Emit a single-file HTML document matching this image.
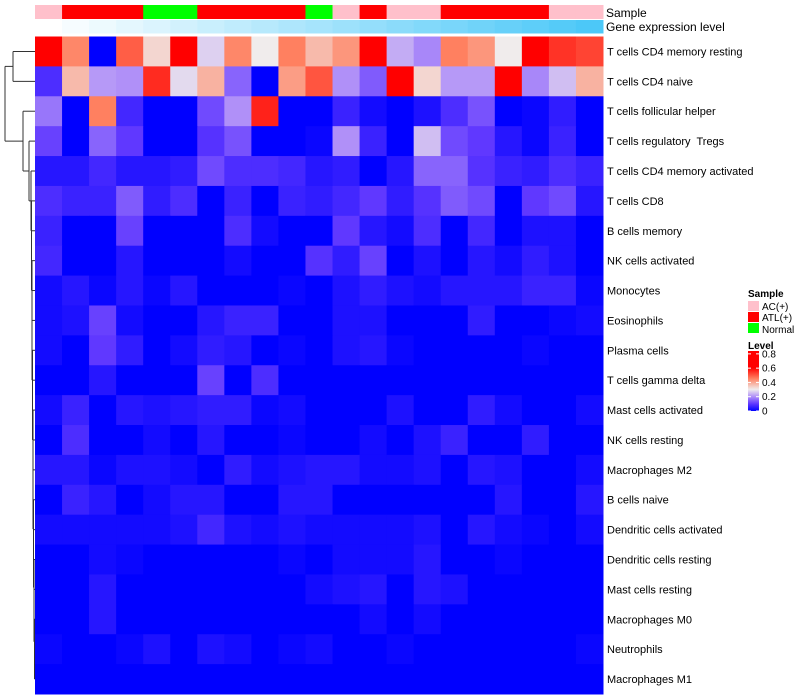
<!DOCTYPE html>
<html><head><meta charset="utf-8"><style>
body{margin:0;background:#fff;}
svg{display:block;font-family:"Liberation Sans",sans-serif;}
#rowlabels text{white-space:pre;}
</style></head><body>
<svg id="chart" width="800" height="700" viewBox="0 0 800 700" xmlns="http://www.w3.org/2000/svg">
<g id="dendro" stroke="#333" stroke-width="1" fill="none"></g>
<g id="annot"></g>
<g id="cells"></g>
<g id="rowlabels" font-size="11" fill="#000"></g>
<text x="606" y="17" font-size="12">Sample</text>
<text x="606" y="31" font-size="12">Gene expression level</text>
<g id="legend" font-size="10">
<text x="748" y="297" font-weight="bold">Sample</text>
<rect x="748" y="301" width="11" height="10" fill="#ffc0cb"/>
<text x="762" y="310">AC(+)</text>
<rect x="748" y="312" width="11" height="10" fill="#ff0000"/>
<text x="762" y="321">ATL(+)</text>
<rect x="748" y="323" width="11" height="10" fill="#00ff00"/>
<text x="762" y="333">Normal</text>
<text x="748" y="349" font-weight="bold">Level</text>
<defs><linearGradient id="lg" x1="0" y1="1" x2="0" y2="0">
<stop offset="0" stop-color="#0000ff"/><stop offset="0.12" stop-color="#6038ff"/><stop offset="0.24" stop-color="#b090f8"/><stop offset="0.36" stop-color="#f0ecec"/><stop offset="0.54" stop-color="#ff8060"/><stop offset="0.72" stop-color="#ff0000"/><stop offset="1" stop-color="#ff0000"/>
</linearGradient></defs>
<rect x="748" y="351" width="11" height="60" fill="url(#lg)"/>
<g id="lticks"></g>
</g>
</svg>
<script>
const rowNames=["T cells CD4 memory resting","T cells CD4 naive","T cells follicular helper","T cells regulatory  Tregs","T cells CD4 memory activated","T cells CD8","B cells memory","NK cells activated","Monocytes","Eosinophils","Plasma cells","T cells gamma delta","Mast cells activated","NK cells resting","Macrophages M2","B cells naive","Dendritic cells activated","Dendritic cells resting","Mast cells resting","Macrophages M0","Neutrophils","Macrophages M1"];
const sampleGroups=["AC(+)","ATL(+)","ATL(+)","ATL(+)","Normal","Normal","ATL(+)","ATL(+)","ATL(+)","ATL(+)","Normal","AC(+)","ATL(+)","AC(+)","AC(+)","ATL(+)","ATL(+)","ATL(+)","ATL(+)","AC(+)","AC(+)"];
const geneLevel=[0,1,2,3,4,5,6,7,8,9,10,11,12,13,14,15,16,17,18,19,20];
const legendTicks=[0,0.2,0.4,0.6,0.8];
const r0=[.6,.44,0,.49,.33,.6,.27,.44,.3,.45,.37,.42,.6,.23,.19,.45,.42,.3,.6,.54,.52];
const r1=[.08,.37,.21,.2,.55,.28,.38,.15,0,.41,.5,.2,.14,.6,.33,.21,.21,.6,.19,.25,.38];
const r2=[.17,0,.45,.07,0,0,.12,.2,.56,0,0,.06,.02,0,.03,.08,.13,0,.01,.05,0];
const r3=[.11,0,.15,.1,0,0,.09,.13,0,0,.01,.2,.06,0,.25,.12,.1,.04,.01,.06,0];
const r4=[.04,.04,.07,.04,.04,.05,.12,.08,.08,.07,.04,.05,0,.04,.15,.15,.09,.06,.05,.08,.06];
const r5=[.08,.06,.06,.14,.05,.08,0,.06,0,.06,.05,.07,.1,.05,.09,.14,.12,0,.1,.12,.04];
const r6=[.06,0,0,.11,0,0,0,.08,.02,0,0,.1,.04,.02,.08,0,.07,0,.03,.03,0];
const r7=[.07,0,0,.04,0,0,0,.02,0,0,.09,.05,.11,0,.03,0,.04,.02,.05,.03,0];
const r8=[.02,.04,.01,.04,.01,.04,0,0,0,.01,0,.03,.05,.03,.02,.04,.04,.04,.06,.06,.01];
const r9=[.02,.03,.11,.02,0,0,.04,.06,.06,0,0,.03,.03,0,0,0,.05,0,0,.01,.02];
const r10=[.02,0,.1,.05,0,.02,.05,.04,0,.01,0,.03,.04,.01,0,0,0,0,.01,0,0];
const r11=[0,0,.04,0,0,0,.11,0,.08,0,0,0,0,0,0,0,0,0,0,0,0];
const r12=[.02,.06,0,.04,.03,.04,.05,.05,.01,.02,0,0,0,.03,0,0,.05,.02,0,0,.02];
const r13=[0,.08,0,0,.02,0,.04,0,0,.01,0,0,.02,0,.03,.06,0,0,.05,0,0];
const r14=[.04,.04,.01,.03,.03,.02,0,.05,.02,.03,.04,.04,.02,.02,.03,0,.04,.03,0,0,.02];
const r15=[0,.06,.04,0,.02,.04,.04,0,0,.04,.04,0,0,0,0,0,0,.04,0,0,.04];
const r16=[.02,.02,.02,.02,.02,.03,.07,.03,.02,.03,.02,.02,.02,.02,.03,0,.04,.02,.01,0,.02];
const r17=[0,0,.02,.01,0,0,0,0,0,.01,0,.02,.02,.02,.04,0,0,.01,0,0,0];
const r18=[0,0,.04,0,0,0,0,0,0,0,.02,.03,.04,0,.04,.03,0,0,0,0,0];
const r19=[0,0,.04,0,0,0,0,0,0,0,0,0,.02,0,.02,0,0,0,0,0,0];
const r20=[.01,0,0,.01,.03,0,.03,.02,0,.01,.02,0,0,.01,0,0,0,0,0,0,.01];
const r21=[0,0,0,0,0,0,0,0,0,0,0,0,0,0,0,0,0,0,0,0,0];
const values=[r0,r1,r2,r3,r4,r5,r6,r7,r8,r9,r10,r11,r12,r13,r14,r15,r16,r17,r18,r19,r20,r21];

const NS="http://www.w3.org/2000/svg";
const X0=35,X1=603,Y0=36.5,Y1=694;
const nC=sampleGroups.length,nR=rowNames.length;
const cw=(X1-X0)/nC,rh=(Y1-Y0)/nR;
function xs(i){return X0+i*cw;}
function ys(j){return Y0+j*rh;}
const stops=[[0,[0,0,255]],[0.1,[96,56,255]],[0.2,[176,144,248]],[0.3,[240,236,236]],[0.45,[255,128,96]],[0.6,[255,0,0]]];
function col(v){
  if(v<=0)return "rgb(0,0,255)";
  for(let k=1;k<stops.length;k++){
    if(v<=stops[k][0]){const a=stops[k-1],b=stops[k];const t=(v-a[0])/(b[0]-a[0]);
      return "rgb("+a[1].map((c,i)=>Math.round(c+(b[1][i]-c)*t)).join(",")+")";}
  }
  return "rgb(255,0,0)";
}
const groupColor={"AC(+)":"#ffc0cb","ATL(+)":"#ff0000","Normal":"#00ff00"};
function lvlColor(l){const t=l/20;const a=[255,255,255],b=[76,200,248];
  return "rgb("+a.map((c,i)=>Math.round(c+(b[i]-c)*t)).join(",")+")";}
function mk(tag,attrs,parent){const e=document.createElementNS(NS,tag);for(const k in attrs)e.setAttribute(k,attrs[k]);parent.appendChild(e);return e;}

const cells=document.getElementById("cells");
for(let j=0;j<nR;j++){for(let i=0;i<nC;i++){
  const r=mk("rect",{x:xs(i),y:ys(j),width:cw+0.5,height:rh+0.5,fill:col(values[j][i])},cells);
  
  
}}
const rl=document.getElementById("rowlabels");
for(let j=0;j<nR;j++){
  const t=mk("text",{x:607,y:ys(j)+rh/2+4},rl);t.textContent=rowNames[j];
  
  
}
const an=document.getElementById("annot");
for(let i=0;i<nC;i++){
  const a=mk("rect",{x:xs(i),y:5,width:cw+0.5,height:14,fill:groupColor[sampleGroups[i]]},an);
  
  
  const b=mk("rect",{x:xs(i),y:20,width:cw+0.5,height:13.5,fill:lvlColor(geneLevel[i])},an);
  
  
}
const lt=document.getElementById("lticks");
const lmax=0.84;
legendTicks.forEach(v=>{
  const y=411-v/lmax*60;
  const t=mk("text",{x:762,y:y+3.5},lt);t.textContent=String(v);
  
  
  mk("line",{x1:748,x2:751,y1:y,y2:y,stroke:"#fff"},lt);
  mk("line",{x1:756,x2:759,y1:y,y2:y,stroke:"#fff"},lt);
});
const dg=document.getElementById("dendro");
function cy(j){return ys(j)+rh/2;}
function seg(x1,y1,x2,y2){mk("line",{x1:x1,y1:y1,x2:x2,y2:y2},dg);}
function node(x,ya,xa,yb,xb){seg(x,ya,x,yb);seg(x,ya,xa,ya);seg(x,yb,xb,yb);}
node(13,cy(0),35,cy(1),35);
let prevY=cy(21),prevX=35;
const chainX=[34.5,34.5,34,34,33.5,33.5,33,33,33,32.5,32.5,32,32,32,31.5,31.5,31,30];
for(let j=20;j>=4;j--){
  const x=chainX[20-j];
  node(x,cy(j),35,prevY,prevX);
  prevY=(cy(j)+prevY)/2;prevX=x;
}
node(29,cy(3),35,prevY,prevX);
let m3=(cy(3)+prevY)/2;
node(23,cy(2),35,m3,29);
let m2=(cy(2)+m3)/2;
node(5,(cy(0)+cy(1))/2,13,m2,23);
</script>
</body></html>
